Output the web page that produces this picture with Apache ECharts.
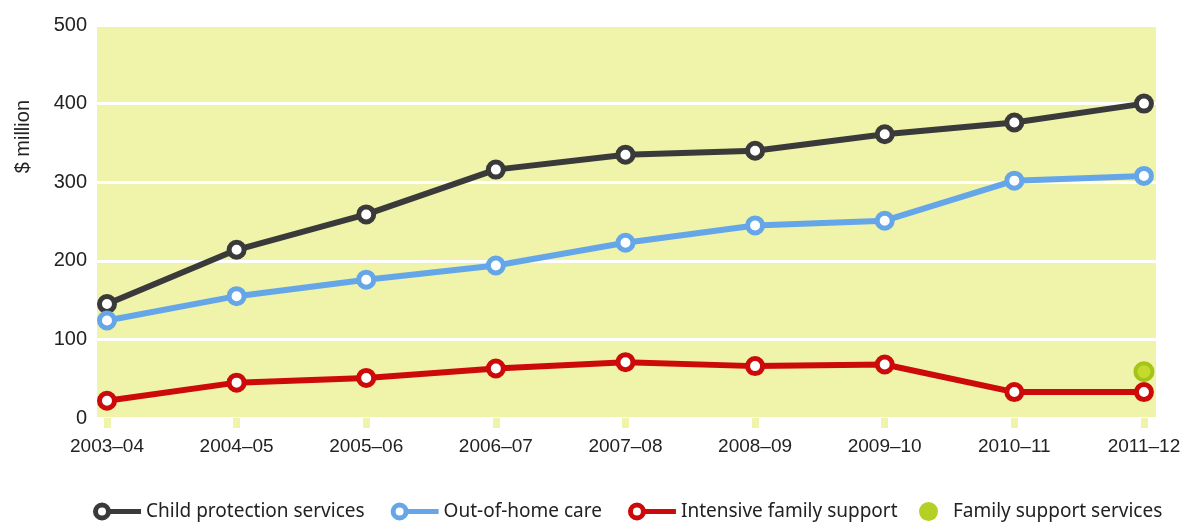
<!DOCTYPE html>
<html>
<head>
<meta charset="utf-8">
<script src="https://cdn.jsdelivr.net/npm/echarts@6/dist/echarts.min.js"></script>
<style>
  html, body { margin: 0; padding: 0; background: #fff; }
  #chart { width: 1186px; height: 523px; }
</style>
</head>
<body>
<div id="chart"></div>
<script>
const categories = ['2003–04', '2004–05', '2005–06', '2006–07', '2007–08', '2008–09', '2009–10', '2010–11', '2011–12']
const childProtection = [145, 214, 259, 316, 335, 340, 361, 376, 400]
const outOfHomeCare = [124, 155, 176, 194, 223, 245, 251, 302, 308]
const intensiveFamily = [22, 45, 51, 63, 71, 66, 68, 33, 33]
const familySupport = [null, null, null, null, null, null, null, null, 59]
const yTicks = [0, 100, 200, 300, 400, 500]

// ring + line, drawn in a 48x18 box so the legend does not squash it
const LINE_ICON = 'path://M0,9 A9,9 0 1,1 18,9 A9,9 0 1,1 0,9 Z M5,9 A4,4 0 1,0 13,9 A4,4 0 1,0 5,9 Z M17,6.5 L48,6.5 L48,11.5 L17,11.5 Z'

function pairs(values) {
  return values.map((v, i) => [i, v])
}

function lineSeries(name, values, color) {
  return {
    name: name,
    type: 'line',
    data: pairs(values),
    symbol: 'circle',
    symbolSize: 15,
    lineStyle: { color: color, width: 6 },
    itemStyle: { color: '#fff', borderColor: color, borderWidth: 5 },
    z: 3
  }
}

let chart = echarts.init(document.getElementById('chart'))
let textFont = 'Liberation Sans, Arial, sans-serif'
let legendText = { color: '#222', fontSize: 19, fontFamily: 'Noto Sans, sans-serif' }

chart.setOption({
  animation: false,
  grid: {
    left: 97,
    right: 30,
    top: 25,
    bottom: 105,
    show: true,
    backgroundColor: '#f0f3aa',
    borderWidth: 0
  },
  graphic: [
    {
      type: 'text',
      left: 13,
      top: 100,
      rotation: Math.PI / 2,
      style: { text: '$ million', fill: '#222', fontSize: 20, fontFamily: textFont }
    }
  ],
  xAxis: {
    type: 'value',
    min: -0.077,
    max: 8.093,
    axisLine: { show: false },
    splitLine: { show: false },
    axisTick: {
      show: true,
      customValues: categories.map((c, i) => i),
      length: 10,
      lineStyle: { color: '#f0f3aa', width: 7 }
    },
    axisLabel: {
      customValues: categories.map((c, i) => i),
      formatter: v => categories[Math.round(v)],
      color: '#222',
      fontSize: 19,
      fontFamily: textFont,
      margin: 19
    }
  },
  yAxis: {
    type: 'value',
    min: yTicks[0],
    max: yTicks[yTicks.length - 1],
    interval: 100,
    axisLine: { show: false },
    axisTick: { show: false },
    axisLabel: { color: '#222', fontSize: 20, fontFamily: textFont, margin: 10 },
    splitLine: { lineStyle: { color: '#fff', width: 3 } }
  },
  legend: [
    {
      left: 93,
      top: 502,
      padding: 0,
      itemWidth: 48,
      itemHeight: 18,
      itemGap: 26,
      textStyle: legendText,
      data: [
        { name: 'Child protection services', icon: LINE_ICON, itemStyle: { color: '#3a3a3a', borderWidth: 0 } },
        { name: 'Out-of-home care', icon: LINE_ICON, itemStyle: { color: '#64a6e8', borderWidth: 0 } },
        { name: 'Intensive family support', icon: LINE_ICON, itemStyle: { color: '#cc0a0a', borderWidth: 0 } }
      ]
    },
    {
      left: 919,
      top: 502,
      padding: 0,
      itemWidth: 19,
      itemHeight: 19,
      textStyle: Object.assign({ padding: [0, 0, 0, 10] }, legendText),
      data: [
        { name: 'Family support services', icon: 'circle', itemStyle: { color: '#b4d024', borderWidth: 0 } }
      ]
    }
  ],
  series: [
    lineSeries('Child protection services', childProtection, '#3a3a3a'),
    lineSeries('Out-of-home care', outOfHomeCare, '#64a6e8'),
    lineSeries('Intensive family support', intensiveFamily, '#cc0a0a'),
    {
      name: 'Family support services',
      type: 'line',
      data: pairs(familySupport),
      symbol: 'circle',
      symbolSize: 17,
      showSymbol: true,
      lineStyle: { width: 0 },
      itemStyle: { color: '#c4da2c', borderColor: '#a4c41c', borderWidth: 4 },
      z: 4
    }
  ]
})
</script>
</body>
</html>
